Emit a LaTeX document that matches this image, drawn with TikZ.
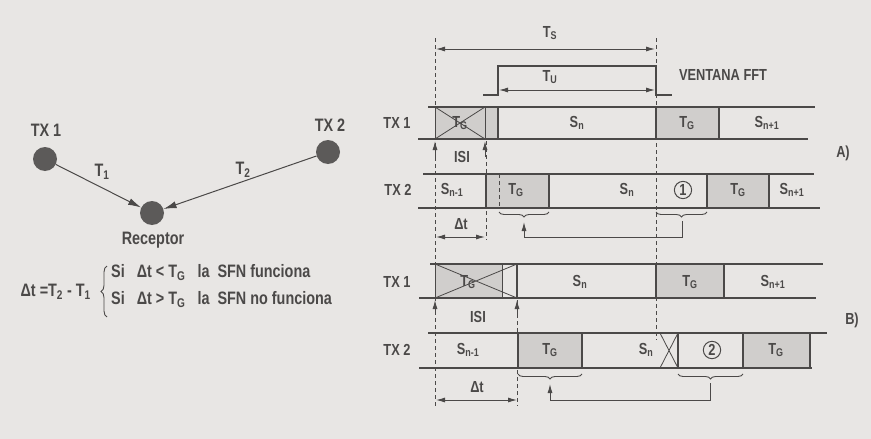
\documentclass[tikz,border=0pt]{standalone}
\usepackage{fontspec}
\setmainfont{Liberation Sans}
\newfontfamily\condfont{Liberation Sans}[FakeStretch=0.8]
\usetikzlibrary{arrows.meta,decorations.pathreplacing}

\definecolor{papel}{RGB}{232,230,228}
\definecolor{tinta}{RGB}{75,73,72}
\definecolor{sombra}{RGB}{208,206,204}
\definecolor{bola}{RGB}{92,90,89}

\newcommand{\sbi}[1]{\textsubscript{#1}}

\tikzset{
  linea/.style={draw=tinta, line width=1.4pt},
  fina/.style={draw=tinta, line width=0.8pt},
  guia/.style={draw=tinta, line width=1pt, dash pattern=on 4pt off 3pt},
  flecha/.style={draw=tinta, line width=1pt, -{Latex[length=9pt,width=5pt]}},
  doble/.style={draw=tinta, line width=1pt, {Latex[length=9pt,width=5pt]}-{Latex[length=9pt,width=5pt]}},
  llave/.style={draw=tinta, line width=0.9pt, decorate, decoration={brace,amplitude=5pt,mirror}},
  etiq/.style={text=tinta, font=\condfont\bfseries\fontsize{16}{18}\selectfont, inner sep=1pt},
  grande/.style={etiq, font=\condfont\bfseries\fontsize{18}{20}\selectfont},
  num/.style={etiq, circle, draw=tinta, line width=1pt, inner sep=1.5pt},
  antena/.style={circle, fill=bola, minimum size=24pt, inner sep=0pt},
}

\begin{document}
\begin{tikzpicture}[x=1pt, y=-1pt]
% fondo (papel)
\fill[papel] (0,0) rectangle (871,439);

% Transmisores y receptor
\node (tx1) [antena] at (45,159) {};
\node (tx2) [antena] at (328,152) {};
\node (rx) [antena] at (152,213) {};
\node (ltx1) [grande] at (46,130) {TX 1};
\node (ltx2) [grande] at (330,125) {TX 2};
\node (lrx) [grande] at (153,240) {Receptor};
\draw[flecha, -{Latex[length=13pt,width=7pt]}] (tx1) -- (rx);
\draw[flecha, -{Latex[length=13pt,width=7pt]}] (tx2) -- (rx);
\node (lt1) [grande] at (102,172) {T\sbi{1}};
\node (lt2) [grande] at (243,170) {T\sbi{2}};

% Condicion de funcionamiento
\node (dt) [grande, anchor=east] at (92,292) {Δt =T\sbi{2} - T\sbi{1}};
\node (cond) [grande, anchor=west] at (110,287) {\begin{tabular}{@{}l@{}}
  Si\ \ \ Δt < T\sbi{G}\ \ \ la\ \ SFN funciona\\[7pt]
  Si\ \ \ Δt > T\sbi{G}\ \ \ la\ \ SFN no funciona
\end{tabular}};
\draw[llave, decoration={amplitude=6pt, mirror=false}] (107,317) -- (107,266);

% Lineas guia
\draw[guia] (435,38) -- (435,406);
\draw[guia] (656,38) -- (656,340);
\draw[guia] (486,141) -- (486,240);

% Ventana FFT
\draw[linea] (483,95) -- (498,95) -- (498,66) -- (656,66) -- (656,95) -- (672,95);
\draw[doble] (436,49) -- (655,49);
\draw[doble] (499,90) -- (655,90);
\node (ts) [etiq] at (550,33) {T\sbi{S}};
\node (tu) [etiq] at (550,77) {T\sbi{U}};
\node (fft) [etiq] at (723,75) {VENTANA FFT};

% A) TX 1
\fill[sombra] (435,107) rectangle (498,139);
\fill[sombra] (656,107) rectangle (719,139);
\draw[linea] (428,107) -- (815,107);
\draw[linea] (418,139) -- (808,139);
\draw[fina] (435,107) rectangle (485,139);
\draw[fina] (435,107) -- (485,139) (435,139) -- (485,107);
\draw[linea] (498,107) -- (498,139) (656,107) -- (656,139) (719,107) -- (719,139);
\node (a1tx) [etiq] at (397,123) {TX 1};
\node (a1g) [etiq] at (460,123) {T\sbi{G}};
\node (a1s) [etiq] at (577,123) {S\sbi{n}};
\node (a1g2) [etiq] at (687,123) {T\sbi{G}};
\node (a1s2) [etiq] at (767,123) {S\sbi{n+1}};
\draw[flecha] (435,157) -- (435,141);
\draw[flecha] (485,157) -- (485,141);
\node (a1isi) [etiq] at (462,157) {ISI};

% A) TX 2
\fill[sombra] (486,174) rectangle (549,208);
\fill[sombra] (707,174) rectangle (769,208);
\draw[linea] (423,174) -- (814,174);
\draw[linea] (418,208) -- (820,208);
\draw[linea] (486,174) -- (486,208) (549,174) -- (549,208) (707,174) -- (707,208) (769,174) -- (769,208);
\draw[guia] (499,174) -- (499,208);
\node (a2tx) [etiq] at (398,190) {TX 2};
\node (a2s0) [etiq] at (452,190) {S\sbi{n-1}};
\node (a2g) [etiq] at (516,190) {T\sbi{G}};
\node (a2s) [etiq] at (627,190) {S\sbi{n}};
\node (a2c) [num] at (683,190) {1};
\node (a2g2) [etiq] at (738,190) {T\sbi{G}};
\node (a2s2) [etiq] at (792,190) {S\sbi{n+1}};
\draw[llave] (499,212) -- (549,212);
\draw[llave] (656,212) -- (707,212);
\draw[flecha] (682,221) |- (524,237) -- (524,222);
\draw[doble] (436,237) -- (485,237);
\node (a2dt) [etiq] at (461,224) {Δt};
\node (la) [etiq] at (843,153) {A)};

% B) TX 1
\fill[sombra] (435,264) rectangle (502,298);
\fill[sombra] (656,264) rectangle (724,298);
\draw[linea] (430,264) -- (823,264);
\draw[linea] (419,298) -- (816,298);
\draw[fina] (435,264) -- (435,298) (502,264) -- (502,298);
\draw[linea] (517,264) -- (517,298) (656,264) -- (656,298) (724,264) -- (724,298);
\draw[fina] (435,264) -- (517,298) (435,298) -- (517,264);
\node (b1tx) [etiq] at (397,282) {TX 1};
\node (b1g) [etiq] at (468,282) {T\sbi{G}};
\node (b1s) [etiq] at (580,282) {S\sbi{n}};
\node (b1g2) [etiq] at (690,282) {T\sbi{G}};
\node (b1s2) [etiq] at (773,282) {S\sbi{n+1}};
\draw[flecha] (435,314) -- (435,300);
\draw[flecha] (517,314) -- (517,300);
\node (b1isi) [etiq] at (478,317) {ISI};
\draw[guia] (517,300) -- (517,406);

% B) TX 2
\fill[sombra] (518,333) rectangle (582,368);
\fill[sombra] (743,333) rectangle (810,368);
\draw[linea] (428,333) -- (827,333);
\draw[linea] (419,368) -- (812,368);
\draw[linea] (518,333) -- (518,368) (582,333) -- (582,368) (678,333) -- (678,368) (743,333) -- (743,368) (810,333) -- (810,368);
\draw[fina] (660,333) -- (678,368) (660,368) -- (678,333);
\node (b2tx) [etiq] at (397,350) {TX 2};
\node (b2s0) [etiq] at (468,350) {S\sbi{n-1}};
\node (b2g) [etiq] at (550,350) {T\sbi{G}};
\node (b2s) [etiq] at (646,350) {S\sbi{n}};
\node (b2c) [num] at (712,350) {2};
\node (b2g2) [etiq] at (776,350) {T\sbi{G}};
\draw[llave] (518,374) -- (582,374);
\draw[llave] (678,374) -- (743,374);
\draw[flecha] (710,383) |- (550,400) -- (550,384);
\draw[doble] (436,400) -- (517,400);
\node (b2dt) [etiq] at (477,387) {Δt};
\node (lb) [etiq] at (852,320) {B)};
\end{tikzpicture}
\end{document}
